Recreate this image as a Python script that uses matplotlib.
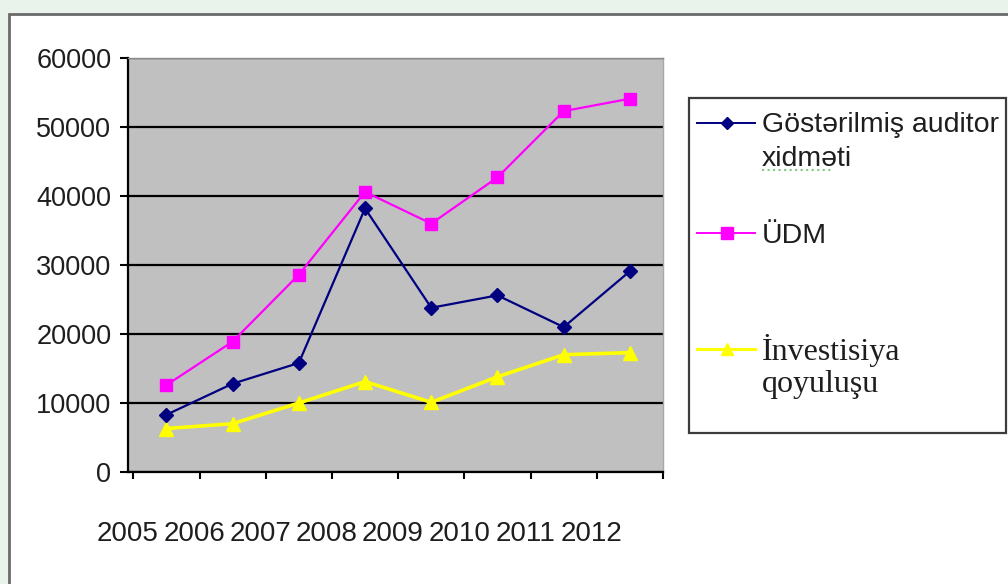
import numpy as np
import matplotlib
matplotlib.use("Agg")
import matplotlib.pyplot as plt
from matplotlib.patches import Rectangle
from matplotlib.lines import Line2D

# ---- data ----
years = ["2005", "2006", "2007", "2008", "2009", "2010", "2011", "2012"]
auditor = [8300, 12800, 15800, 38200, 23800, 25600, 21000, 29100]
udm = [12600, 18900, 28600, 40600, 36000, 42700, 52300, 54100]
invest = [6300, 7000, 10000, 13100, 10100, 13800, 17000, 17300]
yticks = [0, 10000, 20000, 30000, 40000, 50000, 60000]

label_aud = ["Göstərilmiş auditor", "xidməti"]
label_udm = ["ÜDM"]
label_inv = ["İnvestisiya", "qoyuluşu"]

W, H = 1008, 584
plt.rcParams['font.family'] = ['Liberation Sans', 'DejaVu Sans']

fig = plt.figure(figsize=(W / 100, H / 100), dpi=100, facecolor='#eaf3eb')

def fx(px):
    return px / W

def fy(py):
    return 1 - py / H

# white panel
fig.add_artist(Rectangle((fx(9), -0.05), 1.2, fy(14) + 0.05, transform=fig.transFigure,
                         fc='white', ec='#6a6a6a', lw=2, zorder=0))

ax = fig.add_axes([fx(128), fy(472), fx(663) - fx(128), fy(58) - fy(472)])
ax.set_facecolor('#c0c0c0')
x = np.arange(len(years))
ax.set_xlim(-0.5, len(years) - 0.5)
ax.set_ylim(0, 60000)
ax.set_yticks(yticks)
ax.set_yticklabels([str(v) for v in yticks])
ax.yaxis.grid(True, color='black', lw=1.6)
ax.set_axisbelow(True)

for s in ['left', 'bottom']:
    ax.spines[s].set_color('black')
    ax.spines[s].set_linewidth(1.6)
ax.spines['top'].set_color('#8a8a8a')
ax.spines['top'].set_linewidth(1.0)
ax.spines['right'].set_color('#a8a8a8')
ax.spines['right'].set_linewidth(1.0)

ax.tick_params(axis='y', length=6, width=1.5, pad=6, labelsize=19.5, labelcolor='#1e1e1e')
ax.set_xticks(np.arange(-0.5, len(years), 1.0))
ax.tick_params(axis='x', which='major', length=5, width=1.5, labelbottom=False)
ax.set_xticks(x - 0.58, minor=True)
ax.set_xticklabels(years, minor=True)
ax.tick_params(axis='x', which='minor', length=0, pad=35, labelsize=20, labelcolor='#1e1e1e')

c_aud, c_udm, c_inv = '#000080', '#ff00ff', '#ffff00'
ax.plot(x, invest, color=c_inv, lw=2.6, marker='^', ms=10, mec=c_inv, mfc=c_inv, zorder=3)
ax.plot(x, udm, color=c_udm, lw=1.6, marker='s', ms=9, mec=c_udm, mfc=c_udm, zorder=4)
ax.plot(x, auditor, color=c_aud, lw=1.6, marker='D', ms=7, mec=c_aud, mfc=c_aud, zorder=5)

# ---- legend ----
fig.add_artist(Rectangle((fx(689), fy(433)), fx(1006) - fx(689), fy(98) - fy(433),
                         transform=fig.transFigure, fc='white', ec='#3c3c3c', lw=1.6, zorder=1))

def handle(py, color, marker, ms, lw):
    fig.add_artist(Line2D([fx(697), fx(755)], [fy(py), fy(py)], color=color, lw=lw,
                          transform=fig.transFigure, zorder=2))
    fig.add_artist(Line2D([fx(727)], [fy(py)], color=color, marker=marker, ms=ms,
                          mfc=color, mec=color, transform=fig.transFigure, zorder=3))

handle(123, c_aud, 'D', 6, 1.4)
handle(233, c_udm, 's', 8, 1.4)
handle(349, c_inv, '^', 8, 2.2)

fig.text(fx(762), fy(132), label_aud[0], fontsize=20.5, color='#1e1e1e', va='baseline')
fig.text(fx(762), fy(166), label_aud[1], fontsize=20.5, color='#1e1e1e', va='baseline')
fig.add_artist(Line2D([fx(762), fx(832)], [fy(170), fy(170)], color='#7fc87f', lw=1.5,
                      ls=':', transform=fig.transFigure, zorder=3))
fig.text(fx(762), fy(243), label_udm[0], fontsize=20.5, color='#1e1e1e', va='baseline')
fig.text(fx(762), fy(360), label_inv[0], fontsize=23, color='#1e1e1e', va='baseline',
         family=['Liberation Serif', 'DejaVu Serif'])
fig.text(fx(762), fy(392), label_inv[1], fontsize=23, color='#1e1e1e', va='baseline',
         family=['Liberation Serif', 'DejaVu Serif'])

fig.savefig('out.png', dpi=100, facecolor=fig.get_facecolor())
